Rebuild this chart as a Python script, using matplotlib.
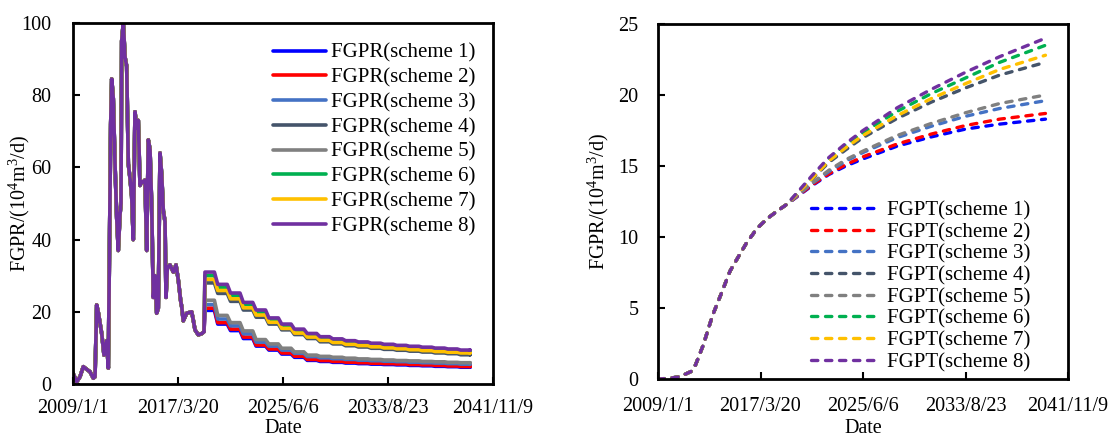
import numpy as np
import pandas as pd
import matplotlib
matplotlib.use("Agg")
import matplotlib.pyplot as plt
import matplotlib.dates as mdates
from matplotlib.ticker import FuncFormatter, MultipleLocator

plt.rcParams["font.family"] = ["Liberation Serif", "DejaVu Serif"]
plt.rcParams["mathtext.fontset"] = "custom"
plt.rcParams["mathtext.rm"] = "Liberation Serif"
plt.rcParams["mathtext.default"] = "regular"

# ---------------- data ----------------
start_date = "2009-01-01"
axis_end_date = "2041-11-09"
tick_dates = ["2009-01-01", "2017-03-20", "2025-06-06", "2033-08-23", "2041-11-09"]

schemes = ["scheme 1", "scheme 2", "scheme 3", "scheme 4",
           "scheme 5", "scheme 6", "scheme 7", "scheme 8"]
colors = ["#0000FF", "#FF0000", "#4472C4", "#44546A",
          "#808080", "#00B050", "#FFC000", "#7030A0"]

# historical gas production rate (days since start, 10^4 m3/d)
hist_day = [0, 106, 200, 294, 400, 486, 580, 629, 677, 723,
            820, 886, 963, 1009, 1077, 1106, 1151, 1200, 1249, 1294,
            1343, 1371, 1391, 1437, 1486, 1534, 1580, 1629, 1677, 1723,
            1771, 1820, 1866, 1914, 1963, 2009, 2057, 2106, 2151, 2200,
            2249, 2294, 2343, 2391, 2437, 2486, 2534, 2580, 2629, 2657,
            2694, 2771, 2866, 2943, 3009, 3077, 3106, 3151, 3249, 3391,
            3437, 3486, 3580, 3686, 3743]
hist_rate = [3.0, 0.6, 2.0, 4.8, 4.0, 3.4, 1.6, 2.0, 21.9, 19.8,
             14.0, 8.0, 12.0, 4.4, 72.0, 84.5, 79.0, 61.0, 46.0, 37.0,
             47.0, 50.0, 95.0, 100.0, 90.6, 88.0, 61.0, 57.0, 52.0, 40.0,
             75.4, 71.0, 73.0, 55.0, 56.0, 56.0, 56.5, 37.0, 67.6, 65.0,
             49.0, 24.0, 30.0, 19.6, 21.0, 64.0, 58.0, 48.0, 45.0, 24.0,
             32.0, 33.0, 31.0, 33.0, 28.8, 23.0, 21.4, 17.5, 19.6, 20.0,
             17.7, 15.0, 13.6, 14.0, 14.5]

# forecast rate, one value per year from the first forecast date
forecast_start = "2019-04-29"
forecast_end = "2040-01-20"
rate_s1 = [20.4, 16.6, 14.8, 12.6, 10.5, 9.4, 8.3, 7.4, 6.55, 6.25, 6.0,
           5.8, 5.65, 5.5, 5.4, 5.3, 5.15, 5.05, 4.9, 4.8, 4.65]
rate_s2 = [21.0, 17.0, 15.2, 13.0, 10.8, 9.7, 8.6, 7.7, 6.8, 6.5, 6.25,
           6.05, 5.9, 5.75, 5.65, 5.55, 5.4, 5.3, 5.15, 5.0, 4.85]
rate_s3 = [22.0, 18.0, 16.1, 13.9, 11.6, 10.5, 9.4, 8.5, 7.6, 7.25, 7.0,
           6.8, 6.6, 6.45, 6.3, 6.2, 6.05, 5.9, 5.8, 5.65, 5.5]
rate_s4 = [28.0, 25.1, 22.9, 20.5, 18.5, 16.6, 15.0, 13.7, 12.6, 11.7, 11.1,
           10.6, 10.25, 9.9, 9.6, 9.35, 9.1, 8.85, 8.6, 8.4, 8.1]
rate_s5 = [23.2, 19.0, 17.0, 14.7, 12.3, 11.1, 9.9, 8.9, 8.0, 7.65, 7.4,
           7.15, 6.95, 6.8, 6.65, 6.5, 6.4, 6.25, 6.15, 6.0, 5.9]
rate_s6 = [30.0, 26.8, 24.5, 22.0, 19.9, 17.8, 16.1, 14.8, 13.6, 12.7, 12.1,
           11.6, 11.25, 10.9, 10.6, 10.3, 10.05, 9.8, 9.55, 9.3, 9.05]
rate_s7 = [29.0, 25.9, 23.6, 21.1, 19.1, 17.1, 15.4, 14.1, 13.0, 12.1, 11.5,
           11.0, 10.65, 10.3, 10.0, 9.75, 9.5, 9.25, 9.0, 8.8, 8.6]
rate_s8 = [31.0, 27.6, 25.2, 22.6, 20.5, 18.3, 16.6, 15.2, 14.0, 13.1, 12.5,
           12.0, 11.65, 11.3, 11.0, 10.7, 10.45, 10.2, 9.95, 9.7, 9.4]
rates = [rate_s1, rate_s2, rate_s3, rate_s4, rate_s5, rate_s6, rate_s7, rate_s8]

# cumulative gas production (days since start, 10^8 m3)
cum_hist_day = [0, 300, 644, 986, 1100, 1326, 1600, 1850, 2108, 2350,
                2596, 2900, 3200, 3500, 3771]
cum_hist = [0.0, 0.04, 0.16, 0.55, 1.0, 2.4, 4.5, 6.0, 7.6, 8.6,
            9.6, 10.6, 11.3, 11.85, 12.3]
cum_fc_day = [3771, 4500, 5000, 5500, 6000, 7000, 8000, 9000, 10000, 11340]
cum_s1 = [12.3, 13.6, 14.4, 15.0, 15.5, 16.4, 17.05, 17.6, 17.95, 18.3]
cum_s2 = [12.3, 13.65, 14.45, 15.1, 15.65, 16.55, 17.25, 17.85, 18.3, 18.7]
cum_s3 = [12.3, 13.75, 14.6, 15.35, 15.95, 17.0, 17.8, 18.5, 19.05, 19.6]
cum_s4 = [12.3, 14.05, 15.25, 16.15, 17.0, 18.35, 19.5, 20.5, 21.4, 22.3]
cum_s5 = [12.3, 13.8, 14.7, 15.45, 16.05, 17.15, 18.0, 18.75, 19.4, 20.0]
cum_s6 = [12.3, 14.2, 15.5, 16.5, 17.35, 18.85, 20.1, 21.2, 22.3, 23.5]
cum_s7 = [12.3, 14.1, 15.35, 16.3, 17.15, 18.55, 19.75, 20.8, 21.8, 22.8]
cum_s8 = [12.3, 14.3, 15.6, 16.6, 17.5, 19.1, 20.4, 21.6, 22.7, 24.0]
cums = [cum_s1, cum_s2, cum_s3, cum_s4, cum_s5, cum_s6, cum_s7, cum_s8]

# ---------------- helpers ----------------
t0 = pd.Timestamp(start_date)


def day_to_date(days):
    return t0 + pd.to_timedelta(np.asarray(days), unit="D")


def date_fmt(v, pos):
    d = mdates.num2date(v)
    return f"{d.year}/{d.month}/{d.day}"


FS = 14.5


def style_axes(ax, ymax, ystep, xpad, ypad):
    ax.set_xlim(pd.Timestamp(start_date), pd.Timestamp(axis_end_date))
    ax.set_ylim(0, ymax)
    ax.set_xticks([pd.Timestamp(d) for d in tick_dates])
    ax.xaxis.set_major_formatter(FuncFormatter(date_fmt))
    ax.yaxis.set_major_locator(MultipleLocator(ystep))
    for s in ax.spines.values():
        s.set_linewidth(2.0)
        s.set_color("black")
    ax.tick_params(axis="both", direction="in", length=5, width=1.5,
                   labelsize=FS, colors="black")
    ax.tick_params(axis="x", pad=xpad)
    ax.tick_params(axis="y", pad=ypad)
    ax.set_xlabel("Date", fontsize=FS)
    ax.set_ylabel(r"FGPR/(10$^4$m$^3$/d)", fontsize=FS)


fig = plt.figure(figsize=(11.15, 4.41), dpi=100)
fig.patch.set_facecolor("white")

# ---------------- left: production rate ----------------
ax1 = fig.add_axes([73 / 1115, 1 - 384 / 441, 420 / 1115, 361 / 441])
fc_dates = pd.date_range(forecast_start, periods=len(rate_s1),
                         freq=pd.DateOffset(years=1))
hold = pd.Timedelta(days=270)   # each yearly rate is held, then stepped down
hist_x = day_to_date(hist_day)
lw = 2.6
for name, col, r in zip(schemes, colors, rates):
    ax1.plot(hist_x, hist_rate, color=col, lw=lw,
             solid_joinstyle="round", solid_capstyle="round")
    xs = [hist_x[-1]]
    ys = [hist_rate[-1]]
    for d, v in zip(fc_dates, r):
        xs += [d, d + hold]
        ys += [v, v]
    xs.append(pd.Timestamp(forecast_end))
    ys.append(r[-1])
    ax1.plot(xs, ys, color=col, lw=lw,
             solid_joinstyle="round", solid_capstyle="round",
             label=f"FGPR({name})")
style_axes(ax1, 100, 20, 10.5, 15.5)
ax1.yaxis.set_label_coords(-0.097, 0.5)
ax1.xaxis.set_label_coords(0.5, -0.096)
ax1.legend(loc="upper left", bbox_to_anchor=(0.476, 0.944), frameon=False,
           fontsize=15, borderpad=0, borderaxespad=0, labelspacing=0.25,
           handlelength=2.56, handletextpad=0.24)

# ---------------- right: cumulative production ----------------
ax2 = fig.add_axes([658 / 1115, 1 - 379 / 441, 410 / 1115, 355 / 441])
cum_x = list(day_to_date(cum_hist_day)) + list(day_to_date(cum_fc_day[1:]))
for name, col, c in zip(schemes, colors, cums):
    ys = list(cum_hist) + list(c[1:])
    ax2.plot(cum_x, ys, color=col, lw=2.4, linestyle=(0, (1.9, 2.3)),
             dash_capstyle="round", label=f"FGPT({name})")
style_axes(ax2, 25, 5, 13.0, 14)
ax2.yaxis.set_label_coords(-0.115, 0.5)
ax2.xaxis.set_label_coords(0.5, -0.112)
ax2.legend(loc="upper left", bbox_to_anchor=(0.372, 0.502), frameon=False,
           fontsize=15, borderpad=0, borderaxespad=0, labelspacing=0.10,
           handlelength=3.33, handletextpad=0.32)

fig.savefig("out.png", dpi=100, facecolor="white")
